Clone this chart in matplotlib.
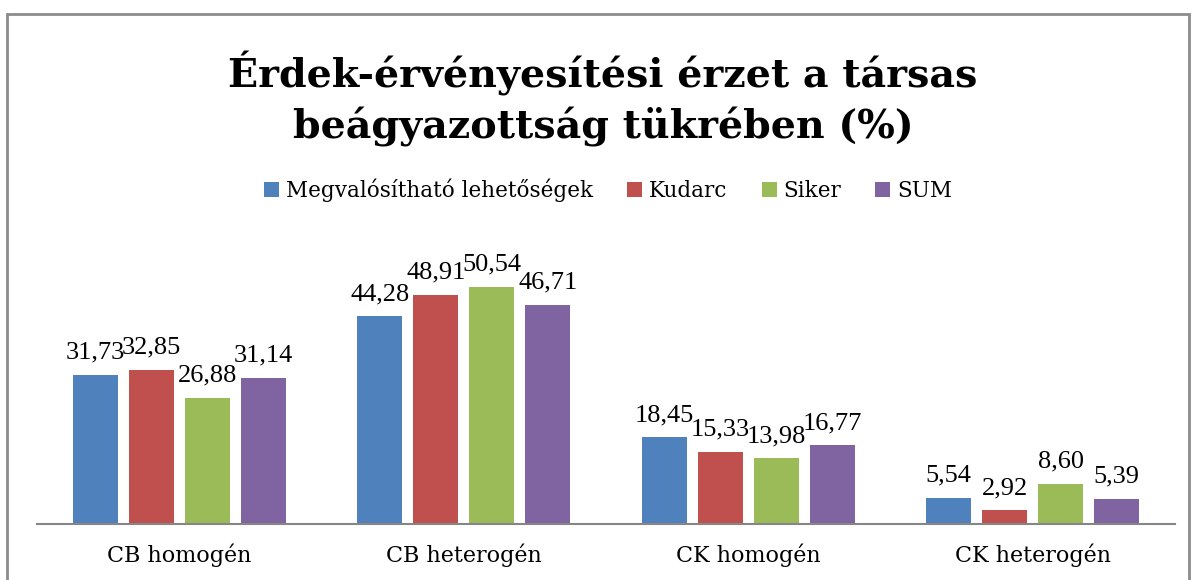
import numpy as np
import matplotlib.pyplot as plt
from matplotlib.patches import Rectangle

categories = ["CB homogén", "CB heterogén", "CK homogén", "CK heterogén"]
series = ["Megvalósítható lehetőségek", "Kudarc", "Siker", "SUM"]
megval = [31.73, 44.28, 18.45, 5.54]
kudarc = [32.85, 48.91, 15.33, 2.92]
siker = [26.88, 50.54, 13.98, 8.60]
sum_ = [31.14, 46.71, 16.77, 5.39]
colors = ["#4F81BD", "#C0504D", "#9BBB59", "#8064A2"]

plt.rcParams['font.family'] = ['DejaVu Serif']

W, H = 1194, 580
fig = plt.figure(figsize=(W / 100, H / 100), dpi=100)

# outer frame of the chart
fig.patches.append(Rectangle((7 / W, -0.05), (1189 - 7) / W, 1.05 - 14 / H,
                             transform=fig.transFigure, fill=False,
                             edgecolor="#8C8C8C", linewidth=2))

ymax = 60
base = 524
px_per = 4.69
top = base - ymax * px_per
ax = fig.add_axes([37 / W, 1 - base / H, (1175 - 37) / W, (base - top) / H])

x = np.arange(len(categories))
slot = 0.197
bw = 0.158
data = [megval, kudarc, siker, sum_]
for i, (vals, name, c) in enumerate(zip(data, series, colors)):
    pos = x + (i - 1.5) * slot
    bars = ax.bar(pos, vals, width=bw, color=c, label=name)
    for b, v in zip(bars, vals):
        ax.text(b.get_x() + b.get_width() / 2, v + 2.4, f"{v:.2f}".replace(".", ","),
                ha="center", va="bottom", fontsize=19, family="Liberation Serif")

ax.set_xlim(-0.5, 3.5)
ax.set_ylim(0, ymax)
ax.set_yticks([])
ax.set_xticks(x)
ax.set_xticklabels(categories, fontsize=16)
ax.tick_params(axis="x", length=0, pad=14)
for s in ["top", "left", "right"]:
    ax.spines[s].set_visible(False)
ax.spines["bottom"].set_color("#868686")
ax.spines["bottom"].set_linewidth(1.5)

fig.text(603 / W, 1 - 99 / H, "Érdek-érvényesítési érzet a társas\nbeágyazottság tükrében (%)",
         ha="center", va="center", fontsize=28.5, fontweight="bold", linespacing=1.35)

fig.legend(loc="center", bbox_to_anchor=(608 / W, 1 - 190 / H), ncol=4, frameon=False,
           fontsize=15.5, handlelength=0.7, handleheight=0.7, handletextpad=0.3,
           columnspacing=1.6)

fig.savefig("out.png", dpi=100)
